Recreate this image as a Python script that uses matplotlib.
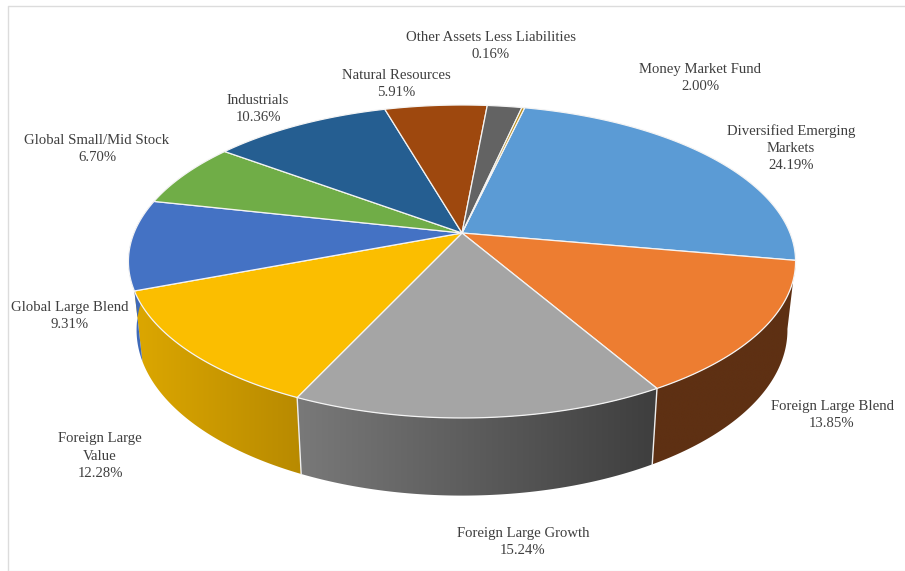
import numpy as np
import matplotlib
matplotlib.use("Agg")
import matplotlib.pyplot as plt
from matplotlib.colors import to_rgb
from matplotlib.patches import Polygon

categories = [
    "Diversified Emerging\nMarkets",
    "Foreign Large Blend",
    "Foreign Large Growth",
    "Foreign Large\nValue",
    "Global Large Blend",
    "Global Small/Mid Stock",
    "Industrials",
    "Natural Resources",
    "Money Market Fund",
    "Other Assets Less Liabilities",
]
values = [24.19, 13.85, 15.24, 12.28, 9.31, 6.70, 10.36, 5.91, 2.00, 0.16]

top_colors = ["#5b9bd5", "#ed7d31", "#a5a5a5", "#fbbe00", "#4472c4",
              "#70ad47", "#255e91", "#9e480e", "#636363", "#b8890b"]
# side wall shading, left to right; only these slices face the viewer
wall_slices = [1, 2, 3, 4]
wall_left = ["#5e3013", "#797979", "#dca700", "#3f6ab8"]
wall_right = ["#5e3013", "#3e3e3e", "#b88a00", "#3f6ab8"]

label_xy = [(791, 148), (832, 415), (523, 542), (100, 456), (70, 316),
            (97, 149), (258, 109), (396, 84), (700, 78), (491, 46)]

START_ANGLE = 13.0
CX = 462
TILT = 0.182


def ring(angles, cy, rx, ry):
    # perspective projection of a circle, angles clockwise from 12 o'clock
    t = np.radians(angles)
    u, v = np.sin(t), -np.cos(t)
    w = 1 - TILT * v
    return CX + rx * u / w, cy + ry * v / w


def top_ring(angles):
    return ring(angles, 233, 328, 151.3)


def bottom_ring(angles):
    return ring(angles, 300, 320, 160)


plt.rcParams["font.family"] = ["Liberation Serif", "DejaVu Serif"]

fig = plt.figure(figsize=(9.05, 5.71), dpi=100)
ax = fig.add_axes([0, 0, 1, 1])

edges = START_ANGLE + np.concatenate([[0], np.cumsum(values)]) * 3.6

# side walls first, the top disc covers whatever is behind it
for i, c_left, c_right in zip(wall_slices, wall_left, wall_right):
    a = np.linspace(edges[i], edges[i + 1], 80)
    tx, ty = top_ring(a)
    bx, by = bottom_ring(a)
    xs = np.concatenate([tx, bx[::-1]])
    ys = np.concatenate([ty, by[::-1]])
    outline = Polygon(np.column_stack([xs, ys]), closed=True, fc="none",
                      ec="none", zorder=2)
    ax.add_patch(outline)
    c0, c1 = np.array(to_rgb(c_left)), np.array(to_rgb(c_right))
    mix = np.linspace(0, 1, 256)[None, :, None]
    grad = c0 + (c1 - c0) * mix
    im = ax.imshow(grad, extent=[xs.min(), xs.max(), ys.max(), ys.min()],
                   aspect="auto", zorder=1, interpolation="bilinear")
    im.set_clip_path(outline)

# pale seams between the front walls
for e in edges[2:4]:
    tx, ty = top_ring(e)
    bx, by = bottom_ring(e)
    ax.plot([tx, bx], [ty, by], color="#eeeeee", lw=1.0, zorder=2)

# top disc
for i in range(len(values)):
    a = np.linspace(edges[i], edges[i + 1], 80)
    tx, ty = top_ring(a)
    xs = np.concatenate([[CX], tx])
    ys = np.concatenate([[233], ty])
    ax.add_patch(Polygon(np.column_stack([xs, ys]), closed=True,
                         fc=top_colors[i], ec="#f4f4f4", lw=0.9, zorder=3))

for name, val, (x, y) in zip(categories, values, label_xy):
    ax.text(x, y, f"{name}\n{val:.2f}%", ha="center", va="center",
            fontsize=10.6, color="#3f3f3f", linespacing=1.42, zorder=4)

# chart frame, open on the right
ax.plot([905, 7.5, 7.5], [5.5, 5.5, 571], color="#dcdcdc", lw=1.0, zorder=0)
ax.plot([7.5, 905], [570.5, 570.5], color="#eeeeee", lw=1.0, zorder=0)

ax.set_xlim(0, 905)
ax.set_ylim(571, 0)
ax.axis("off")

fig.savefig("out.png", dpi=100)
print("Plot saved to out.png")
